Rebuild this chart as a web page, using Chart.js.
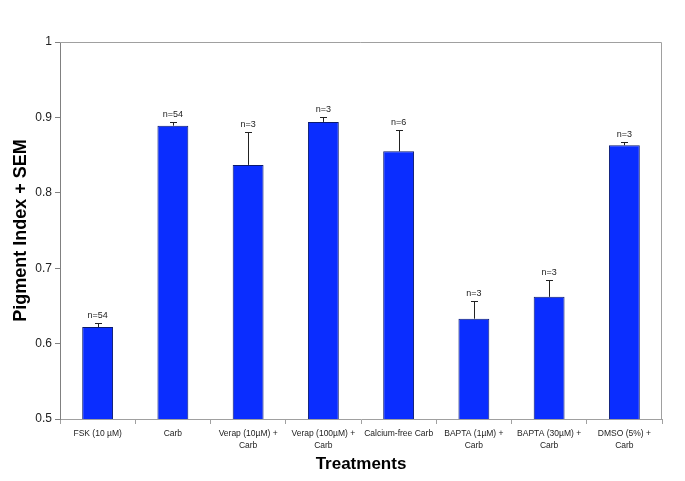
<!DOCTYPE html>
<html>
<head>
<meta charset="utf-8">
<script src="https://cdn.jsdelivr.net/npm/chart.js@4.4.0/dist/chart.umd.min.js"></script>
<style>
html,body{margin:0;padding:0;background:#fff;}
#wrap{width:685px;height:481px;position:relative;}
</style>
</head>
<body>
<div id="wrap"><canvas id="c" width="685" height="481"></canvas></div>
<script>
const categories = [
  "FSK (10 µM)",
  "Carb",
  ["Verap (10µM) +", "Carb"],
  ["Verap (100µM) +", "Carb"],
  "Calcium-free Carb",
  ["BAPTA (1µM) +", "Carb"],
  ["BAPTA (30µM) +", "Carb"],
  ["DMSO (5%) +", "Carb"]
];
const means = [0.622, 0.889, 0.837, 0.894, 0.855, 0.633, 0.662, 0.863];
const sems  = [0.005, 0.005, 0.043, 0.007, 0.028, 0.024, 0.022, 0.004];
const nLabels = ["n=54", "n=54", "n=3", "n=3", "n=6", "n=3", "n=3", "n=3"];
const yTicks = [0.5, 0.6, 0.7, 0.8, 0.9, 1];

const FONT = "'Liberation Sans', Arial, sans-serif";

const extras = {
  id: 'extras',
  beforeDatasetsDraw(chart) {
    const a = chart.chartArea, ctx = chart.ctx;
    ctx.save();
    ctx.strokeStyle = '#a0a0a0';
    ctx.lineWidth = 1;
    ctx.beginPath();
    ctx.moveTo(a.left, a.top + 0.5);
    ctx.lineTo(a.right - 0.5, a.top + 0.5);
    ctx.lineTo(a.right - 0.5, a.bottom);
    ctx.stroke();
    ctx.restore();
  },
  afterDatasetsDraw(chart) {
    const ctx = chart.ctx, y = chart.scales.y;
    const meta = chart.getDatasetMeta(0);
    ctx.save();
    meta.data.forEach((bar, i) => {
      const x = Math.round(bar.x) + 0.5;
      const yTop = y.getPixelForValue(means[i]);
      const yErr = y.getPixelForValue(means[i] + sems[i]);
      ctx.strokeStyle = '#222';
      ctx.lineWidth = 1;
      ctx.beginPath();
      ctx.moveTo(x, yTop);
      ctx.lineTo(x, Math.round(yErr) + 0.5);
      ctx.moveTo(x - 3.5, Math.round(yErr) + 0.5);
      ctx.lineTo(x + 3.5, Math.round(yErr) + 0.5);
      ctx.stroke();
      ctx.fillStyle = '#222';
      ctx.font = '9px ' + FONT;
      ctx.textAlign = 'center';
      ctx.textBaseline = 'bottom';
      ctx.fillText(nLabels[i], bar.x, yErr - 3);
    });
    ctx.restore();
  }
};

new Chart(document.getElementById('c'), {
  type: 'bar',
  data: {
    labels: categories,
    datasets: [{
      data: means,
      backgroundColor: '#0a2dff',
      borderColor: '#0a1a70',
      borderWidth: 1,
      barPercentage: 0.41,
      categoryPercentage: 1.0
    }]
  },
  options: {
    responsive: false,
    animation: false,
    devicePixelRatio: 1,
    layout: { padding: { left: 0, top: 42, right: 23, bottom: 0 } },
    plugins: { legend: { display: false }, tooltip: { enabled: false } },
    scales: {
      x: {
        grid: { display: true, drawOnChartArea: false, tickLength: 5, color: '#a0a0a0', offset: true },
        border: { color: '#a0a0a0' },
        ticks: { color: '#222', font: { family: FONT, size: 8.5, lineHeight: 1.45 }, maxRotation: 0, autoSkip: false, padding: 3 },
        title: { display: true, text: 'Treatments', color: '#000', font: { family: FONT, size: 17, weight: 'bold' }, padding: { top: 2, bottom: 6 } },
        afterFit(s) { s.height = 62; }
      },
      y: {
        min: 0.5, max: 1,
        afterBuildTicks(s) { s.ticks = yTicks.map(v => ({ value: v })); },
        grid: { display: true, drawOnChartArea: false, tickLength: 5, color: '#808080' },
        border: { color: '#808080' },
        ticks: { color: '#222', font: { family: FONT, size: 12 }, padding: 3,
          callback: v => String(v) },
        title: { display: true, text: 'Pigment Index + SEM', color: '#000', font: { family: FONT, size: 18, weight: 'bold' }, padding: { top: 10, bottom: 0 } },
        afterFit(s) { s.width = 60; }
      }
    }
  },
  plugins: [extras]
});
</script>
</body>
</html>
